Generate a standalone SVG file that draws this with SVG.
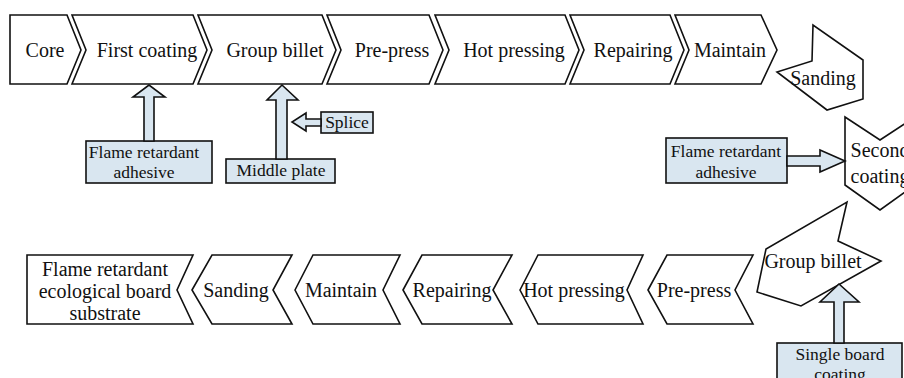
<svg xmlns="http://www.w3.org/2000/svg" width="904" height="378" viewBox="0 0 904 378">
<style>
.s{fill:#fff;stroke:#111;stroke-width:1.6;stroke-linejoin:miter}
.b{fill:#d9e6f0;stroke:#111;stroke-width:1.6}
.a{fill:#d9e6f0;stroke:#111;stroke-width:1.6;stroke-linejoin:miter}
text{font-family:'Liberation Serif','DejaVu Serif','Times New Roman',serif;fill:#111;text-anchor:middle}
.t{font-size:20px}
.u{font-size:17.5px}
</style>
<rect width="904" height="378" fill="#fff"/>
<g id="top-core"><polygon class="s" points="10,15 67,15 81,50 67,84 10,84"/><text class="t" x="45" y="57" font-family="Liberation Serif, serif">Core</text></g>
<g id="top-first-coating"><polygon class="s" points="72,15 193,15 207,50 193,84 72,84 86,50"/><text class="t" x="147" y="57" font-family="Liberation Serif, serif">First coating</text></g>
<g id="top-group-billet"><polygon class="s" points="198,15 322,15 336,50 322,84 198,84 212,50"/><text class="t" x="275" y="57" font-family="Liberation Serif, serif">Group billet</text></g>
<g id="top-pre-press"><polygon class="s" points="327,15 429,15 443,50 429,84 327,84 341,50"/><text class="t" x="392" y="57" font-family="Liberation Serif, serif">Pre-press</text></g>
<g id="top-hot-pressing"><polygon class="s" points="435,15 565,15 579,50 565,84 435,84 449,50"/><text class="t" x="514" y="57" font-family="Liberation Serif, serif">Hot pressing</text></g>
<g id="top-repairing"><polygon class="s" points="570,15 670,15 684,50 670,84 570,84 584,50"/><text class="t" x="633" y="57" font-family="Liberation Serif, serif">Repairing</text></g>
<g id="top-maintain"><polygon class="s" points="675,15 761,15 777,50 761,84 675,84 689,50"/><text class="t" x="730" y="57" font-family="Liberation Serif, serif">Maintain</text></g>
<g id="sanding-turn"><polygon class="s" points="813,25 812,61 777,72 827,110 863,99 863,60"/><text class="t" x="823" y="85" font-family="Liberation Serif, serif">Sanding</text></g>
<g id="second-coating"><polygon class="s" points="845,117 880,140 915,117 915,185 880,210 845,185"/><text class="t" x="880" y="157" font-family="Liberation Serif, serif">Second</text><text class="t" x="880" y="183" font-family="Liberation Serif, serif">coating</text></g>
<g id="group-billet-turn"><polygon class="s" points="847,202 838,241 881,261 801,306 757,292 766,249"/><text class="t" x="813" y="268" font-family="Liberation Serif, serif">Group billet</text></g>
<g id="bottom-pre-press"><polygon class="s" points="648,290 667,255 753,255 735,290 753,324 667,324"/><text class="t" x="694" y="297" font-family="Liberation Serif, serif">Pre-press</text></g>
<g id="bottom-hot-pressing"><polygon class="s" points="520,290 538,255 643,255 627,290 643,324 538,324"/><text class="t" x="574" y="297" font-family="Liberation Serif, serif">Hot pressing</text></g>
<g id="bottom-repairing"><polygon class="s" points="403,290 422,255 512,255 493,290 512,324 422,324"/><text class="t" x="452" y="297" font-family="Liberation Serif, serif">Repairing</text></g>
<g id="bottom-maintain"><polygon class="s" points="295,290 313,255 400,255 383,290 400,324 313,324"/><text class="t" x="341" y="297" font-family="Liberation Serif, serif">Maintain</text></g>
<g id="bottom-sanding"><polygon class="s" points="192,290 212,255 292,255 273,290 292,324 212,324"/><text class="t" x="236" y="297" font-family="Liberation Serif, serif">Sanding</text></g>
<g id="final-substrate"><polygon class="s" points="27,255 193,255 177,290 193,324 27,324"/><text class="t" x="105" y="276" font-family="Liberation Serif, serif">Flame retardant</text><text class="t" x="105" y="298" font-family="Liberation Serif, serif">ecological board</text><text class="t" x="105" y="320" font-family="Liberation Serif, serif">substrate</text></g>
<g id="box-adhesive-1"><rect class="b" x="86" y="141" width="126" height="42"/><text class="u" x="144" y="158" font-family="Liberation Serif, serif">Flame retardant</text><text class="u" x="144" y="178" font-family="Liberation Serif, serif">adhesive</text></g>
<g id="box-middle-plate"><rect class="b" x="226" y="159" width="109" height="24"/><text class="u" x="281" y="176" font-family="Liberation Serif, serif">Middle plate</text></g>
<g id="box-splice"><rect class="b" x="321" y="112" width="52" height="21"/><text class="u" x="347" y="128" font-family="Liberation Serif, serif">Splice</text></g>
<g id="box-adhesive-2"><rect class="b" x="666" y="138" width="121" height="45"/><text class="u" x="726" y="157" font-family="Liberation Serif, serif">Flame retardant</text><text class="u" x="726" y="178" font-family="Liberation Serif, serif">adhesive</text></g>
<g id="box-single-board"><rect class="b" x="777" y="343" width="125" height="40"/><text class="u" x="840" y="360" font-family="Liberation Serif, serif">Single board</text><text class="u" x="840" y="380" font-family="Liberation Serif, serif">coating</text></g>
<g id="connectors">
<polygon class="a" points="144,141 144,97 133,97 149,85 165,97 154,97 154,141"/>
<polygon class="a" points="276,159 276,100 267,100 282,85 298,100 287,100 287,159"/>
<polygon class="a" points="321,119 306,119 306,113 292,122 306,131 306,126 321,126"/>
<polygon class="a" points="787,156 820,156 820,150 845,161 820,172 820,166 787,166"/>
<polygon class="a" points="834,343 834,302 820,302 839,284 859,302 844,302 844,343"/>
</g>
</svg>
